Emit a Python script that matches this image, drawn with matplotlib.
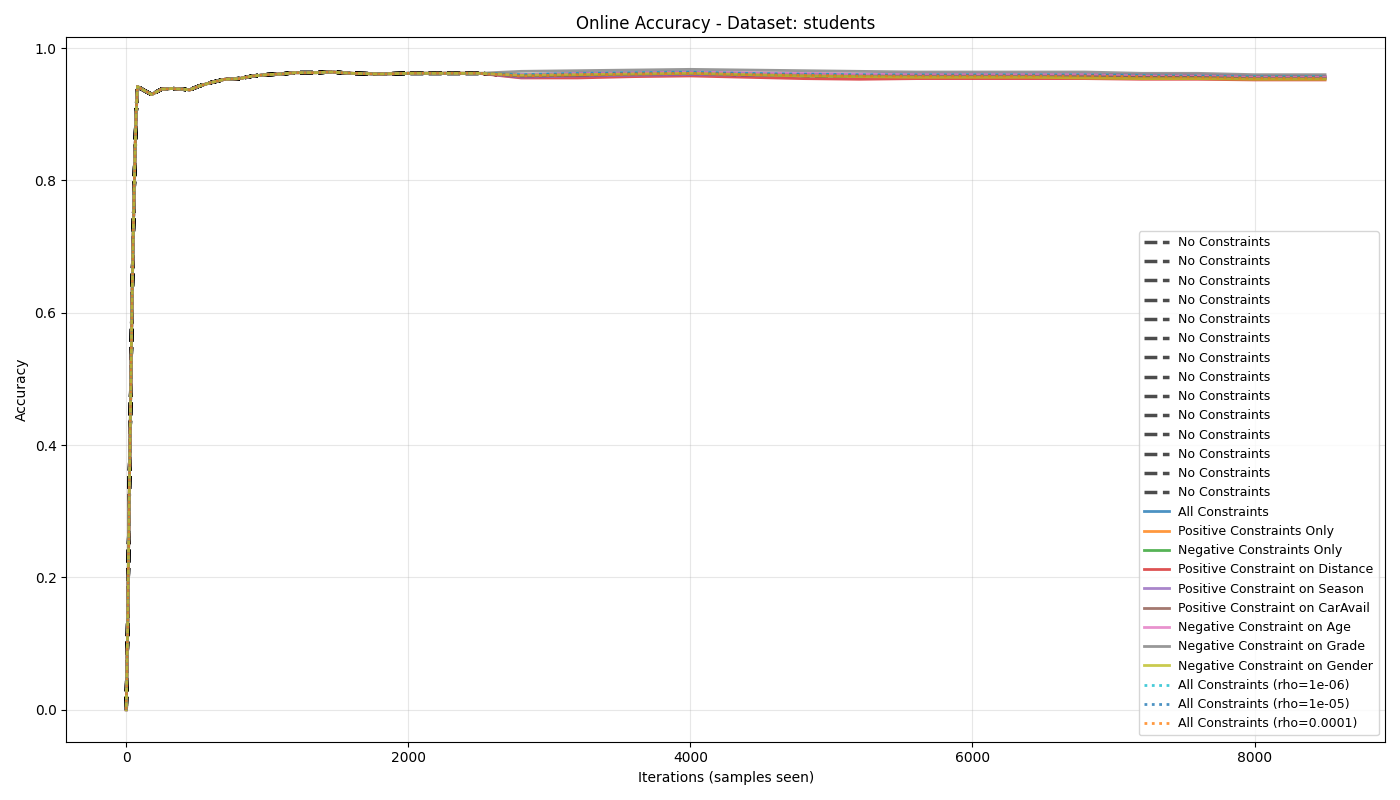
import numpy as np
import matplotlib
matplotlib.use("Agg")
import matplotlib.pyplot as plt

# shared early part of every run (all curves overlap here)
x_early = [0, 10, 20, 30, 40, 50, 60, 70, 80, 120, 180, 250, 320, 400, 450, 520,
           600, 700, 800, 900, 1000, 1100, 1200, 1350, 1450, 1600, 1800, 2000, 2200, 2500]
acc_early = [0.0, 0.12, 0.3, 0.45, 0.6, 0.72, 0.82, 0.9, 0.942, 0.937, 0.93, 0.938, 0.939, 0.938,
             0.937, 0.943, 0.948, 0.953, 0.954, 0.958, 0.960, 0.961, 0.963, 0.963, 0.964, 0.962,
             0.961, 0.962, 0.962, 0.962]

x_tail = [2800, 3200, 3600, 4000, 4400, 4800, 5200, 5600, 6000, 6400, 6800, 7200, 7600, 8000, 8500]

no_constraints = [0.958, 0.960, 0.961, 0.962, 0.960, 0.959, 0.958, 0.958, 0.958, 0.958, 0.958, 0.957, 0.957, 0.956, 0.956]
tails = {
    "All Constraints":                 [0.960, 0.962, 0.963, 0.964, 0.962, 0.961, 0.960, 0.960, 0.960, 0.960, 0.960, 0.959, 0.958, 0.957, 0.957],
    "Positive Constraints Only":       [0.958, 0.960, 0.961, 0.962, 0.960, 0.959, 0.958, 0.958, 0.958, 0.958, 0.958, 0.957, 0.957, 0.956, 0.956],
    "Negative Constraints Only":       [0.958, 0.959, 0.960, 0.961, 0.959, 0.958, 0.957, 0.957, 0.957, 0.957, 0.957, 0.956, 0.955, 0.954, 0.954],
    "Positive Constraint on Distance": [0.955, 0.955, 0.957, 0.958, 0.956, 0.954, 0.953, 0.954, 0.954, 0.954, 0.954, 0.953, 0.953, 0.952, 0.952],
    "Positive Constraint on Season":   [0.956, 0.958, 0.959, 0.960, 0.959, 0.958, 0.957, 0.957, 0.957, 0.957, 0.957, 0.956, 0.956, 0.955, 0.955],
    "Positive Constraint on CarAvail": [0.958, 0.959, 0.961, 0.962, 0.960, 0.959, 0.958, 0.958, 0.958, 0.958, 0.958, 0.957, 0.957, 0.956, 0.956],
    "Negative Constraint on Age":      [0.960, 0.962, 0.963, 0.964, 0.963, 0.962, 0.961, 0.961, 0.961, 0.961, 0.961, 0.960, 0.960, 0.958, 0.958],
    "Negative Constraint on Grade":    [0.965, 0.966, 0.967, 0.968, 0.967, 0.966, 0.965, 0.964, 0.964, 0.964, 0.964, 0.962, 0.962, 0.960, 0.960],
    "Negative Constraint on Gender":   [0.959, 0.960, 0.961, 0.962, 0.960, 0.958, 0.957, 0.956, 0.956, 0.956, 0.955, 0.954, 0.954, 0.953, 0.953],
}
rho_tails = {
    "All Constraints (rho=1e-06)":  [0.960, 0.962, 0.963, 0.964, 0.962, 0.961, 0.960, 0.960, 0.960, 0.960, 0.960, 0.959, 0.958, 0.957, 0.957],
    "All Constraints (rho=1e-05)":  [0.959, 0.961, 0.962, 0.963, 0.961, 0.960, 0.959, 0.959, 0.959, 0.959, 0.959, 0.958, 0.957, 0.956, 0.956],
    "All Constraints (rho=0.0001)": [0.958, 0.960, 0.961, 0.962, 0.960, 0.959, 0.958, 0.958, 0.958, 0.958, 0.958, 0.957, 0.956, 0.955, 0.955],
}
n_baseline = 14

x_all = x_early + x_tail
fig, ax = plt.subplots(figsize=(14, 8), dpi=100)

for i in range(n_baseline):
    ax.plot(x_all, acc_early + no_constraints, color="black", linestyle="--",
            linewidth=2.5, alpha=0.7, label="No Constraints")

colors = plt.rcParams["axes.prop_cycle"].by_key()["color"]
for i, (name, tail) in enumerate(tails.items()):
    ax.plot(x_all, acc_early + tail, color=colors[i], linewidth=2, alpha=0.8, label=name)

rho_colors = ["#17becf", "#1f77b4", "#ff7f0e"]
for c, (name, tail) in zip(rho_colors, rho_tails.items()):
    ax.plot(x_all, acc_early + tail, color=c, linestyle=":", linewidth=2, alpha=0.8, label=name)

ax.set_title("Online Accuracy - Dataset: students")
ax.set_xlabel("Iterations (samples seen)")
ax.set_ylabel("Accuracy")
ax.grid(alpha=0.3)
ax.legend(loc="lower right", fontsize=9)
plt.tight_layout()
plt.savefig("out.png")
